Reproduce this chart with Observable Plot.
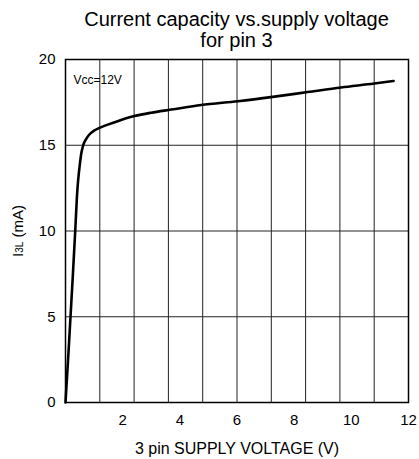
<!DOCTYPE html>
<html>
<head>
<meta charset="utf-8">
<script src="https://cdn.jsdelivr.net/npm/d3@7"></script>
<script src="https://cdn.jsdelivr.net/npm/@observablehq/plot@0.6"></script>
<style>
  html, body { margin: 0; padding: 0; background: #fff; }
  #title {
    box-sizing: border-box;
    height: 51px;
    padding: 9px 11px 0 65px;
    font-family: "Liberation Sans", Arial, sans-serif;
    font-size: 20px;
    line-height: 21px;
    text-align: center;
    color: #000;
  }
  svg { display: block; }
</style>
</head>
<body>
<div id="title">Current capacity vs.supply voltage<br>for pin 3</div>
<div id="chart"></div>
<script>
// Data
const voltage = [0, 0.09, 0.175, 0.26, 0.34, 0.37, 0.40, 0.445, 0.51, 0.55, 0.62, 0.7, 0.82, 1.0, 1.17, 1.75, 2.41, 3.0, 3.7, 4.74, 6.03, 7.25, 8.47, 9.64, 10.8, 11.48];
const current = [0, 2.5, 5, 7.5, 10, 11, 12, 13, 14, 14.5, 15.0, 15.3, 15.6, 15.85, 16.0, 16.36, 16.7, 16.9, 17.08, 17.35, 17.57, 17.82, 18.1, 18.37, 18.6, 18.75];
const xTicks = [2, 4, 6, 8, 10, 12];
const yTicks = [0, 5, 10, 15, 20];
const xGrid = [1.2, 2.4, 3.6, 4.8, 6.0, 7.2, 8.4, 9.6, 10.8];
const yGrid = [5, 10, 15];
const xLabel = "3 pin SUPPLY VOLTAGE (V)";
const yLabel = "I3L (mA)";
const note = "Vcc=12V";

const data = voltage.map((v, i) => ({v, c: current[i]}));
const font = "Liberation Sans, Arial, sans-serif";

const chart = Plot.plot({
  width: 419,
  height: 408,
  marginLeft: 65,
  marginRight: 11,
  marginTop: 8,
  marginBottom: 57,
  style: {fontFamily: font, fontSize: "15px", color: "#000"},
  x: {domain: [0, 12]},
  y: {domain: [0, 20]},
  marks: [
    Plot.ruleX(xGrid, {stroke: "#222", strokeWidth: 1}),
    Plot.ruleY(yGrid, {stroke: "#222", strokeWidth: 1}),
    Plot.axisX(xTicks, {tickSize: 0, tickPadding: 12, fontSize: 15, label: null}),
    Plot.axisY(yTicks, {tickSize: 0, tickPadding: 10, fontSize: 15, label: null}),
    Plot.line(data, {x: "v", y: "c", stroke: "#000", strokeWidth: 2.6, curve: "monotone-x"}),
    Plot.frame({stroke: "#000", strokeWidth: 1.5}),
    Plot.text([note], {text: d => d, frameAnchor: "top-left", dx: 8, dy: 16, lineAnchor: "top", textAnchor: "start", fontSize: 12, fill: "#000"}),
    Plot.text([xLabel], {text: d => d, frameAnchor: "bottom", dy: 51, fontSize: 16, fill: "#000"}),
    Plot.text([yLabel], {text: d => d, frameAnchor: "left", dx: -47, rotate: -90, textAnchor: "middle", fontSize: 15, fill: "#000"})
  ]
});

// render the "3L" part of the y label smaller
d3.select(chart).selectAll("text").filter(function() { return this.textContent === yLabel; }).each(function() {
  const t = d3.select(this);
  t.text(null);
  t.append("tspan").text("I");
  t.append("tspan").attr("font-size", "10px").text("3L");
  t.append("tspan").text(" (mA)");
});

document.getElementById("chart").appendChild(chart);
</script>
</body>
</html>
